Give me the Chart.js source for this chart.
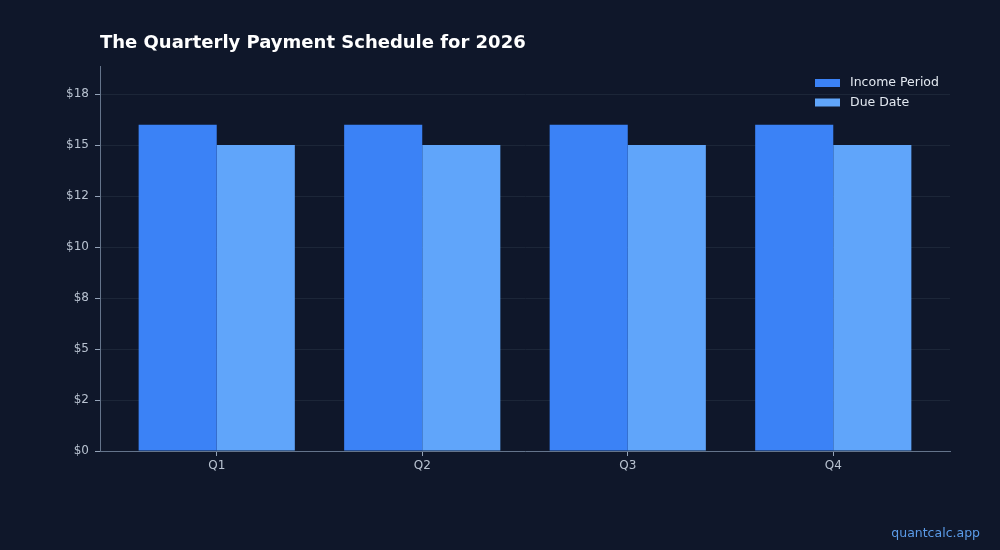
<!DOCTYPE html>
<html>
<head>
<meta charset="utf-8">
<script src="https://cdn.jsdelivr.net/npm/chart.js@4.4.1/dist/chart.umd.min.js"></script>
<style>
  html, body { margin: 0; padding: 0; background: #0f172a; }
  #wrap { width: 1000px; height: 550px; }
</style>
</head>
<body>
<div id="wrap"><canvas id="c" width="1000" height="550"></canvas></div>
<script>
const categories = ['Q1', 'Q2', 'Q3', 'Q4'];
const incomePeriod = [16, 16, 16, 16];
const dueDate = [15, 15, 15, 15];
const yTickValues = [0, 2.5, 5, 7.5, 10, 12.5, 15, 17.5];
const yTickLabels = ['$0', '$2', '$5', '$8', '$10', '$12', '$15', '$18'];
const chartTitle = 'The Quarterly Payment Schedule for 2026';
const watermark = 'quantcalc.app';

const FONT = "'DejaVu Sans', sans-serif";

const overlay = {
  id: 'overlay',
  afterDraw(chart) {
    const ctx = chart.ctx;
    const area = chart.chartArea;
    ctx.save();
    // title
    ctx.fillStyle = '#ffffff';
    ctx.font = 'bold 18px ' + FONT;
    ctx.textAlign = 'left';
    ctx.textBaseline = 'alphabetic';
    ctx.fillText(chartTitle, area.left, 48);
    // legend
    ctx.font = '12.5px ' + FONT;
    ctx.textBaseline = 'middle';
    chart.data.datasets.forEach((ds, i) => {
      const y = 83 + i * 19.5;
      ctx.fillStyle = ds.backgroundColor;
      ctx.fillRect(815, y - 4, 25, 8);
      ctx.fillStyle = '#e2e8f0';
      ctx.fillText(ds.label, 850, y);
    });
    // watermark
    ctx.font = '12.5px ' + FONT;
    ctx.textAlign = 'right';
    ctx.textBaseline = 'alphabetic';
    ctx.fillStyle = '#5b9be8';
    ctx.fillText(watermark, 980, 537);
    ctx.restore();
  }
};

new Chart(document.getElementById('c'), {
  type: 'bar',
  data: {
    datasets: [
      {
        label: 'Income Period',
        data: incomePeriod.map((v, i) => ({ x: i, y: v })),
        backgroundColor: '#3b82f6',
        borderWidth: 0,
        inflateAmount: 0
      },
      {
        label: 'Due Date',
        data: dueDate.map((v, i) => ({ x: i, y: v })),
        backgroundColor: '#60a5fa',
        borderWidth: 0,
        inflateAmount: 0
      }
    ]
  },
  options: {
    responsive: false,
    animation: false,
    devicePixelRatio: 1,
    categoryPercentage: 0.76,
    barPercentage: 1.0,
    layout: { padding: { top: 66, right: 50, left: 0, bottom: 0 } },
    plugins: {
      legend: { display: false },
      title: { display: false },
      tooltip: { enabled: false }
    },
    scales: {
      x: {
        type: 'linear',
        min: -0.568,
        max: 3.568,
        offset: false,
        afterBuildTicks(scale) {
          scale.ticks = categories.map((c, i) => ({ value: i }));
        },
        afterFit(scale) { scale.height = 99; },
        ticks: {
          color: '#b8c2d0',
          font: { family: FONT, size: 12 },
          padding: 3,
          maxRotation: 0,
          autoSkip: false,
          callback: (v) => categories[v]
        },
        grid: {
          display: true,
          offset: false,
          drawOnChartArea: false,
          drawTicks: true,
          tickLength: 5,
          tickColor: '#94a3b8'
        },
        border: { display: true, color: '#64748b', width: 1 }
      },
      y: {
        min: 0,
        max: 18.88,
        afterBuildTicks(scale) {
          scale.ticks = yTickValues.map(v => ({ value: v }));
        },
        afterFit(scale) { scale.width = 100; },
        ticks: {
          color: '#b8c2d0',
          font: { family: FONT, size: 12 },
          padding: 6,
          callback: (v) => yTickLabels[yTickValues.indexOf(v)]
        },
        grid: {
          display: true,
          color: '#1c2638',
          lineWidth: 1,
          drawTicks: true,
          tickLength: 5,
          tickColor: '#94a3b8'
        },
        border: { display: true, color: '#64748b', width: 1 }
      }
    }
  },
  plugins: [overlay]
});
</script>
</body>
</html>
